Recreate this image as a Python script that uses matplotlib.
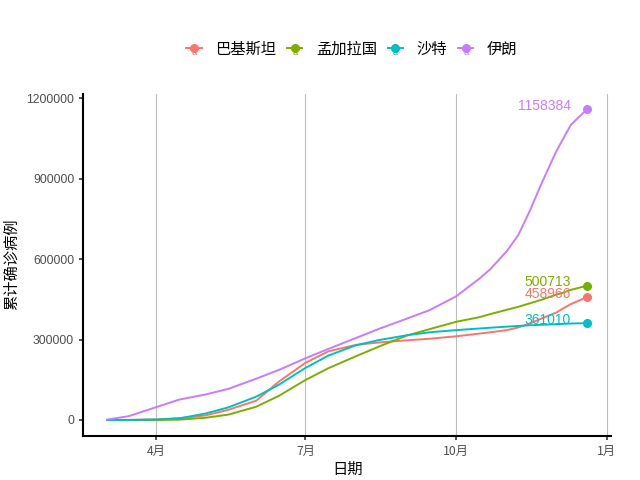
import numpy as np
import pandas as pd
import matplotlib
matplotlib.use("Agg")
from matplotlib import pyplot as plt
from matplotlib.lines import Line2D
from matplotlib.text import Text
from matplotlib.legend_handler import HandlerLine2D

plt.rcParams['font.family'] = ['Noto Sans CJK SC', 'DejaVu Sans']

dates = pd.to_datetime([
    "2020-03-02", "2020-03-15", "2020-04-01", "2020-04-15", "2020-05-01",
    "2020-05-15", "2020-06-01", "2020-06-15", "2020-07-01", "2020-07-15",
    "2020-08-01", "2020-08-15", "2020-09-01", "2020-09-15", "2020-10-01",
    "2020-10-15", "2020-10-22", "2020-11-01", "2020-11-08", "2020-11-15",
    "2020-11-22", "2020-12-01", "2020-12-05", "2020-12-10", "2020-12-15",
    "2020-12-20"])

countries = ["巴基斯坦", "孟加拉国", "沙特", "伊朗"]
colors = ["#F8766D", "#7CAE00", "#00BFC4", "#C77CFF"]

pakistan = [5, 50, 2000, 6500, 17000, 38000, 72000, 144000, 213000, 256000,
            280000, 289000, 297000, 303000, 312000, 322000, 327000, 335000,
            345000, 360000, 378000, 400000, 415000, 432000, 445000, 458966]
bangladesh = [0, 5, 54, 1200, 8200, 20000, 49500, 90600, 149000, 193000,
              238000, 274000, 315000, 339000, 366000, 383000, 395000, 411000,
              422000, 435000, 448000, 467000, 474000, 485000, 493000, 500713]
saudi = [1, 100, 1700, 5900, 24000, 47000, 87000, 132000, 194000, 240000,
         279000, 298000, 316000, 327000, 335000, 341000, 344000, 348000,
         350500, 353000, 355000, 357000, 358300, 359500, 360300, 361010]
iran = [1500, 14000, 48000, 76000, 95000, 116000, 154000, 187000, 230000,
        265000, 306000, 340000, 378000, 410000, 461000, 526000, 563000, 630000,
        690000, 780000, 880000, 1000000, 1045000, 1100000, 1130000, 1158384]

series = [pakistan, bangladesh, saudi, iran]


class HandlerLineText(HandlerLine2D):
    # line + point + small "a" like a ggplot text key
    def create_artists(self, legend, orig_handle, xdescent, ydescent,
                       width, height, fontsize, trans):
        artists = super().create_artists(legend, orig_handle, xdescent, ydescent,
                                         width, height, fontsize, trans)
        t = Text(width / 2 - xdescent, height * 0.1 - ydescent, "a",
                 color=orig_handle.get_color(), fontsize=fontsize * 0.6,
                 ha='center', va='center', family='Liberation Sans',
                 transform=trans)
        return list(artists) + [t]


fig = plt.figure(figsize=(6.4, 4.8), dpi=100)
ax = fig.add_axes([0.13, 0.0927, 0.825, 0.712])

for vals, col in zip(series, colors):
    ax.plot(dates, vals, color=col, lw=1.4)
    ax.plot(dates[-1], vals[-1], 'o', color=col, ms=5.5)
    ax.text(dates[-1] - pd.Timedelta(days=9.8), vals[-1] + 12000, str(vals[-1]),
            color=col, ha='right', va='center', fontsize=10,
            family='Liberation Sans')

# ggplot-style 5% expansion
span = dates[-1] - dates[0]
ax.set_xlim(dates[0] - span * 0.05, dates[-1] + span * 0.05)
ax.set_ylim(-0.05 * 1158384, 1.05 * 1158384)
ax.set_xticks(pd.to_datetime(["2020-04-01", "2020-07-01", "2020-10-01", "2021-01-01"]))
ax.set_xticklabels(["4月", "7月", "10月", "1月"])
ax.set_yticks([0, 300000, 600000, 900000, 1200000])
ax.set_yticklabels(["0", "300000", "600000", "900000", "1200000"],
                   family='Liberation Sans')
ax.tick_params(labelsize=8.8, labelcolor="#4D4D4D", length=3, width=1.2, color="#333333")
ax.grid(axis='x', color="#BEBEBE", lw=0.8)
ax.set_axisbelow(True)
for s in ["top", "right"]:
    ax.spines[s].set_visible(False)
for s in ["left", "bottom"]:
    ax.spines[s].set_linewidth(1.5)

ax.set_xlabel("日期", fontsize=11)
ax.set_ylabel("累计确诊病例", fontsize=11)
ax.xaxis.set_label_coords(0.5, -0.075)
ax.yaxis.set_label_coords(-0.12, 0.5)

handles = [Line2D([], [], color=c, lw=1.4, marker='o', ms=5.5) for c in colors]
fig.legend(handles, countries, loc='center', ncol=4, frameon=False,
           bbox_to_anchor=(0.55, 0.898), fontsize=11, handlelength=1.0,
           columnspacing=0.7, handletextpad=0.9,
           handler_map={Line2D: HandlerLineText()})

fig.savefig("out.png", dpi=100)
